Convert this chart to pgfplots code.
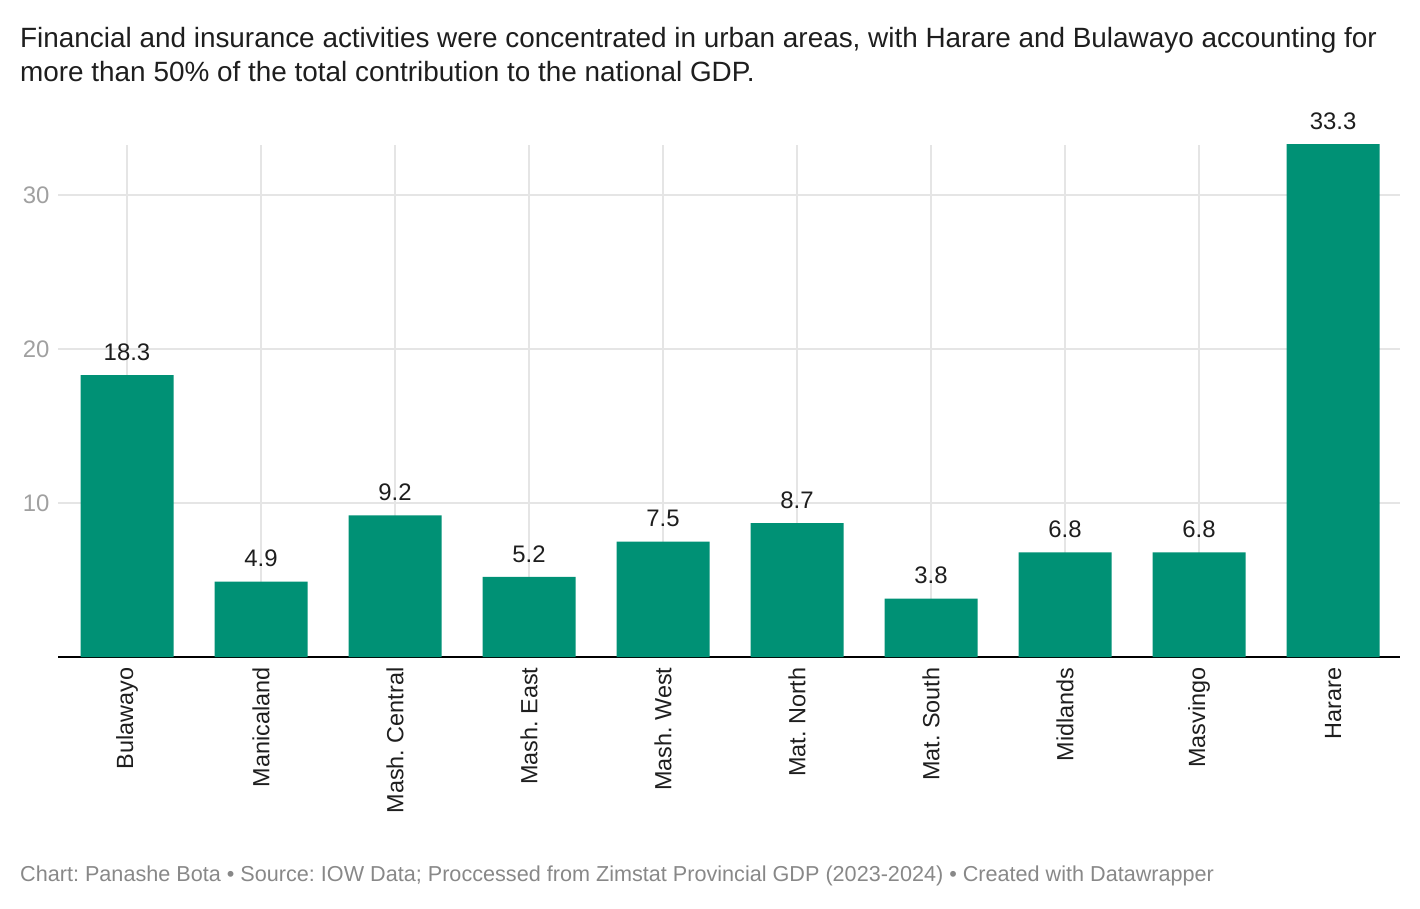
\documentclass[border=0pt]{standalone}
\usepackage{fontspec}
\setmainfont{Liberation Sans}
\usepackage{pgfplots}
\pgfplotsset{compat=1.18}
\definecolor{bargreen}{RGB}{0,145,117}
\definecolor{gridgray}{RGB}{229,229,229}
\definecolor{tickgray}{RGB}{160,160,160}
\definecolor{footgray}{RGB}{136,136,136}
\definecolor{txt}{RGB}{30,30,30}
\frenchspacing

\begin{document}
\begin{tikzpicture}[x=1bp,y=1bp]
\useasboundingbox (0,0) rectangle (1420,-908);

% title, two lines
\node[anchor=base west, font=\fontsize{28}{34}\selectfont, text=txt, inner sep=0pt] at (20,-47)
  {Financial and insurance activities were concentrated in urban areas, with Harare and Bulawayo accounting for};
\node[anchor=base west, font=\fontsize{28}{34}\selectfont, text=txt, inner sep=0pt] at (20,-81)
  {more than 50\% of the total contribution to the national GDP.};

\begin{axis}[
  at={(58bp,-657bp)}, anchor=south west,
  scale only axis, width=1342bp, height=512bp,
  xmin=-0.515, xmax=9.5, ymin=0, ymax=33.25,
  ybar, bar width=93bp,
  clip=false,
  axis x line*=bottom, axis y line*=left,
  x axis line style={draw=black, line width=2bp, -},
  y axis line style={draw=none},
  major tick length=0pt,
  xtick=data,
  xticklabels={Bulawayo, Manicaland, Mash. Central, Mash. East, Mash. West, Mat. North, Mat. South, Midlands, Masvingo, Harare},
  xticklabel style={yshift=-7bp, rotate=90, anchor=east, font=\fontsize{23.5}{26}\selectfont, text=txt},
  ytick={10,20,30},
  yticklabel style={xshift=-5bp, font=\fontsize{24}{26}\selectfont, text=tickgray},
  /pgf/number format/assume math mode=true,
  xmajorgrids, ymajorgrids,
  major grid style={draw=gridgray, line width=2bp},
]
\addplot[fill=bargreen, draw=none,
  nodes near coords,
  nodes near coords style={yshift=11bp, font=\fontsize{24}{26}\selectfont, text=txt,
    /pgf/number format/.cd, fixed, fixed zerofill, precision=1, assume math mode=true}]
  coordinates {
  (0,18.3) (1,4.9) (2,9.2) (3,5.2) (4,7.5)
  (5,8.7) (6,3.8) (7,6.8) (8,6.8) (9,33.3)
  };
\end{axis}

% footer
\node[anchor=base west, font=\fontsize{21.7}{24}\selectfont, text=footgray, inner sep=0pt] at (20,-881)
  {Chart: Panashe Bota • Source: IOW Data; Proccessed from Zimstat Provincial GDP (2023-2024) • Created with Datawrapper};
\end{tikzpicture}
\end{document}
